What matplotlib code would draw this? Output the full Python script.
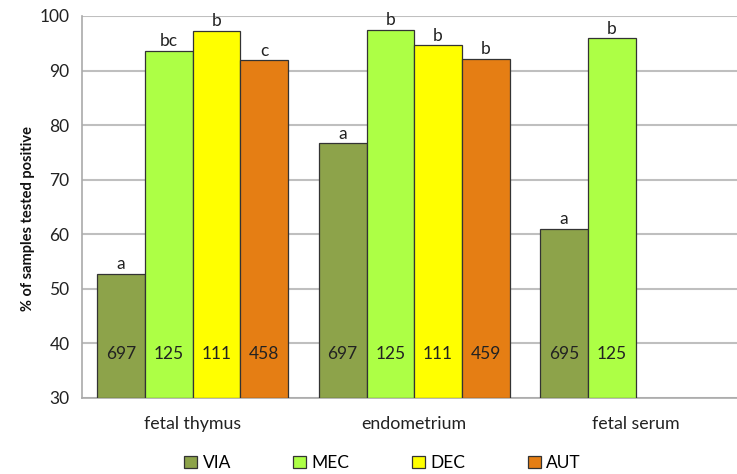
import numpy as np
import matplotlib.pyplot as plt

plt.rcParams['font.family'] = ['Lato', 'DejaVu Sans']

tissues = ['fetal thymus', 'endometrium', 'fetal serum']
groups = ['VIA', 'MEC', 'DEC', 'AUT']
colors = ['#8DA34A', '#ADFF45', '#FFFF00', '#E57E14']

# % positive per tissue (None = not tested)
via = [52.7, 76.7, 61.0]
mec = [93.6, 97.5, 95.9]
dec = [97.3, 94.6, None]
aut = [91.9, 92.1, None]

n_via = [697, 697, 695]
n_mec = [125, 125, 125]
n_dec = [111, 111, None]
n_aut = [458, 459, None]

sig_via = ['a', 'a', 'a']
sig_mec = ['bc', 'b', 'b']
sig_dec = ['b', 'b', None]
sig_aut = ['c', 'b', None]

values = [via, mec, dec, aut]
counts = [n_via, n_mec, n_dec, n_aut]
letters = [sig_via, sig_mec, sig_dec, sig_aut]

fig = plt.figure(figsize=(7.37, 4.74), dpi=100)
ax = fig.add_axes([82 / 737, 76 / 474, 1 - 82 / 737, 382 / 474])

x = np.arange(len(tissues))
width = 0.2154
base = 30

for i, g in enumerate(groups):
    offs = (i - 1.5) * width
    for j in range(len(tissues)):
        v = values[i][j]
        if v is None:
            continue
        ax.bar(x[j] + offs, v - base, width, bottom=base, color=colors[i],
               edgecolor='#333333', linewidth=0.9, zorder=3)
        ax.text(x[j] + offs, v + 0.3, letters[i][j], ha='center', va='bottom',
                fontsize=12.5, color='#222222', zorder=4)
        ax.text(x[j] + offs, 38, str(counts[i][j]), ha='center', va='center',
                fontsize=12.5, color='#222222', zorder=4)

ax.set_ylim(30, 100)
ax.set_xlim(-0.5, -0.5 + (737 - 82) / 221.5)
ax.set_yticks(range(30, 101, 10))
ax.set_xticks(x)
ax.set_xticklabels(tissues, fontsize=12.8, color='#222222')
ax.tick_params(axis='y', labelsize=12.5, colors='#222222', length=0, pad=9)
ax.tick_params(axis='x', length=0, pad=13)
ax.grid(axis='y', color='#BFBFBF', linewidth=1.5, zorder=0)
for s in ['top', 'right']:
    ax.spines[s].set_visible(False)
for s in ['left', 'bottom']:
    ax.spines[s].set_color('#AAAAAA')
    ax.spines[s].set_linewidth(1.2)

ax.set_ylabel('% of samples tested positive', fontsize=10.5, fontweight='bold',
              color='#111111')
ax.yaxis.set_label_coords(-47 / 655, 0.47)

handles = [plt.Rectangle((0, 0), 1, 1, facecolor=c, edgecolor='#333333', linewidth=0.9)
           for c in colors]
fig.legend(handles, groups, loc='center', bbox_to_anchor=(0.519, 11 / 474), ncol=4,
           frameon=False, fontsize=12.5, handlelength=0.75, handleheight=0.75,
           handletextpad=0.3, columnspacing=3.6)

fig.savefig('out.png', dpi=100)
